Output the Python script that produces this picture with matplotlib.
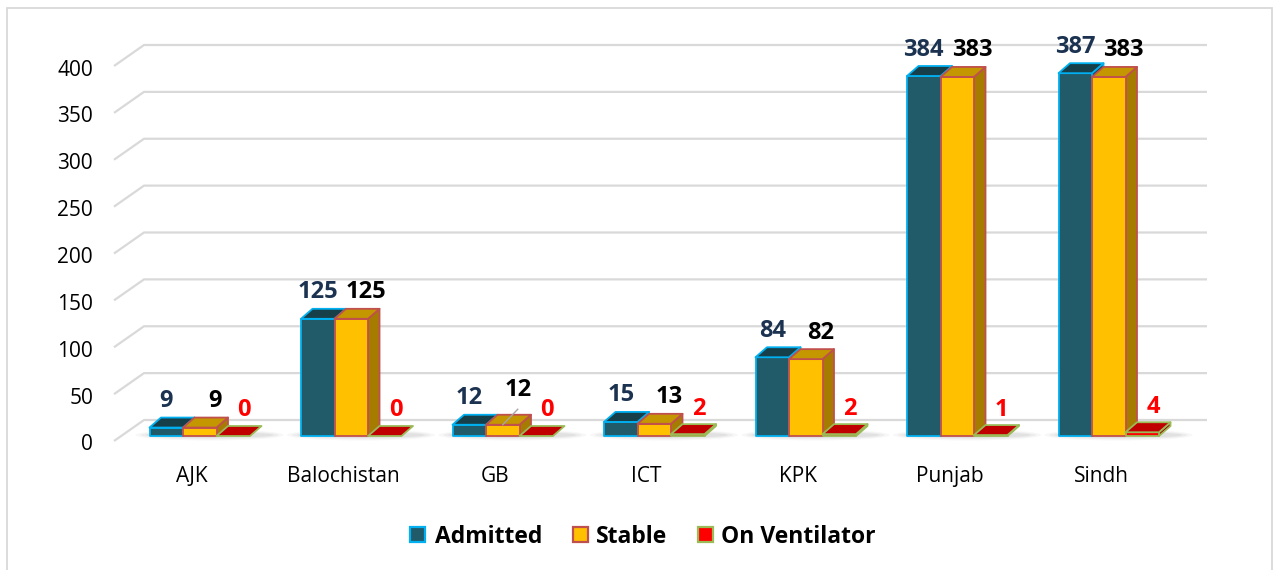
import matplotlib
matplotlib.use("Agg")
import matplotlib.pyplot as plt
from matplotlib.patches import Polygon, Rectangle, Ellipse

# ---------------- data ----------------
categories = ["AJK", "Balochistan", "GB", "ICT", "KPK", "Punjab", "Sindh"]
admitted = [9, 125, 12, 15, 84, 384, 387]
stable = [9, 125, 12, 13, 82, 383, 383]
ventilator = [0, 0, 0, 2, 2, 1, 4]
series_names = ["Admitted", "Stable", "On Ventilator"]
yticks = [0, 50, 100, 150, 200, 250, 300, 350, 400]

# ---------------- styling / geometry (pixels) ----------------
W, H = 1279, 570
X0, PXC = 192.0, 151.5      # pixel of first category centre, pixels per category
Y0, PXU = 436.0, 0.9375     # pixel row of value 0 (bar base), pixels per unit

def px2x(px): return (px - X0) / PXC
def row2y(r): return (Y0 - r) / PXU
def dX(p): return p / PXC
def dY(p): return p / PXU

FONT = "Open Sans"
GRID = "#D9D9D9"

fig = plt.figure(figsize=(W / 100, H / 100), dpi=100)
ax = fig.add_axes([0, 0, 1, 1])
ax.set_xlim(px2x(0), px2x(W))
ax.set_ylim(row2y(H), row2y(0))
ax.axis("off")

# chart border
ax.add_patch(Rectangle((px2x(7), row2y(575)), dX(1272 - 7), dY(575 - 8),
                       fill=False, ec=GRID, lw=1.3, zorder=0))

# ---------------- 3D-ish gridlines ----------------
front_off = dY(-5)      # front edge of floor, relative to value
back_dx, back_dy = dX(30), dY(21)
x_front = px2x(114)
x_right = px2x(1207)
for v in yticks:
    yf = v + front_off
    yb = yf + back_dy
    ax.plot([x_front, x_front + back_dx, x_right], [yf, yb, yb],
            color=GRID, lw=1.6, solid_capstyle="butt", zorder=1)
    ax.text(px2x(93), yf - dY(9.5), str(v), ha="right", va="baseline",
            fontsize=15, family=FONT, color="#000000", zorder=5)

# ---------------- bars ----------------
bar_w = dX(33.5)
starts = [dX(-42.5), dX(-9), dX(24.5)]
ddx, ddy = dX(11.5), dY(10)

styles = [
    dict(front="#215A69", top="#173F4A", side="#173F4A", edge="#00B0F0"),
    dict(front="#FFC000", top="#C49600", side="#A67C00", edge="#C0504D"),
    dict(front="#FF0000", top="#C00000", side="#9A0000", edge="#9BBB59"),
]
label_colors = ["#1B3350", "#000000", "#FF0000"]
label_dx = [dX(0), dX(15), dX(11)]
label_rise = [dY(26.5), dY(26.5), dY(25.5)]
# extra upward nudge for overlapping labels (series index, category index): px
nudges = {(1, 2): 8}

def box(x0, h, st, z):
    x1 = x0 + bar_w
    lw = 1.3
    if h > 0:
        ax.add_patch(Polygon([(x1, 0), (x1 + ddx, ddy), (x1 + ddx, h + ddy), (x1, h)],
                             closed=True, fc=st["side"], ec=st["edge"], lw=lw,
                             joinstyle="round", zorder=z))
        ax.add_patch(Rectangle((x0, 0), bar_w, h, fc=st["front"], ec=st["edge"],
                               lw=lw, joinstyle="round", zorder=z + 0.1))
    ax.add_patch(Polygon([(x0, h), (x0 + ddx, h + ddy), (x1 + ddx, h + ddy), (x1, h)],
                         closed=True, fc=st["top"], ec=st["edge"], lw=lw,
                         joinstyle="round", zorder=z + 0.2))

all_series = [admitted, stable, ventilator]
for i, cat in enumerate(categories):
    # soft floor shadow
    gx0 = i + starts[0]
    gx1 = i + starts[2] + bar_w + ddx
    for k, (grow, a) in enumerate([(dX(36), 0.06), (dX(26), 0.08), (dX(16), 0.10)]):
        ax.add_patch(Ellipse(((gx0 + gx1) / 2 + dX(4), dY(1)), (gx1 - gx0) + grow,
                             dY(11 - 2.5 * k), fc="#808080", ec="none", alpha=a, zorder=1.5))
    for s in range(3):
        h = all_series[s][i]
        x0 = i + starts[s]
        box(x0, h, styles[s], 2 + s)
        extra = dY(nudges.get((s, i), 0))
        lx = x0 + bar_w / 2 + label_dx[s]
        ly = h + label_rise[s] + extra
        ax.text(lx, ly, str(h), ha="center", va="center", fontsize=17,
                fontweight="bold", family=FONT, color=label_colors[s], zorder=10)
        if extra > 0:
            ax.plot([x0 + bar_w / 2, lx], [h, ly - dY(19)], color="#A6A6A6",
                    lw=1.0, zorder=9)
    ax.text(i, row2y(482), cat, ha="center", va="baseline", fontsize=15,
            family=FONT, color="#000000", zorder=5)

# ---------------- legend ----------------
leg_marker_px = [410, 573, 698]
leg_text_px = [435, 596, 721]
for s in range(3):
    ax.add_patch(Rectangle((px2x(leg_marker_px[s]), row2y(542)), dX(15), dY(15),
                           fc=styles[s]["front"], ec=styles[s]["edge"], lw=1.6, zorder=5))
    ax.text(px2x(leg_text_px[s]), row2y(543), series_names[s], ha="left",
            va="baseline", fontsize=16.5, fontweight="bold", family=FONT,
            color="#000000", zorder=5)

fig.savefig("out.png", dpi=100, facecolor="white")
